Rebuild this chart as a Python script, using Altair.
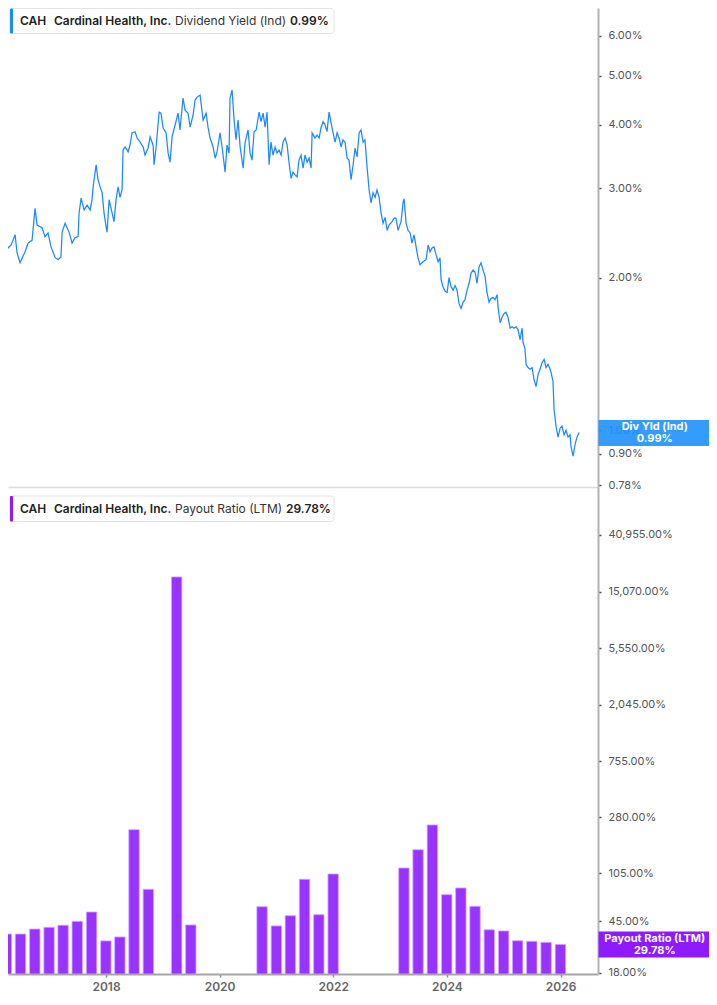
import altair as alt
import pandas as pd

FONT = "Inter"
BLUE = "#1e88ff"
BLUE_BOX = "#1e90ff"
PURPLE = "#9933ff"
PURPLE_BOX = "#8f1aff"

# ---- Dividend yield (Ind), % ----
yield_dates = [
    "2016-03-24", "2016-04-18", "2016-04-25", "2016-05-01", "2016-05-14", "2016-06-02", "2016-06-27",
    "2016-07-09", "2016-07-28", "2016-08-29", "2016-09-17", "2016-10-12", "2016-10-31", "2016-11-13",
    "2016-12-14", "2017-01-02", "2017-01-21", "2017-02-09", "2017-03-07", "2017-03-26", "2017-04-13",
    "2017-04-20", "2017-05-09", "2017-06-03", "2017-06-22", "2017-07-11", "2017-07-30", "2017-08-05",
    "2017-08-18", "2017-09-06", "2017-09-25", "2017-10-14", "2017-10-26", "2017-11-02", "2017-11-21",
    "2017-12-03", "2017-12-16", "2017-12-29", "2018-01-10", "2018-01-23", "2018-01-29", "2018-02-11",
    "2018-03-02", "2018-03-14", "2018-03-27", "2018-04-09", "2018-04-21", "2018-05-04", "2018-05-10",
    "2018-05-23", "2018-06-11", "2018-06-23", "2018-07-06", "2018-07-25", "2018-08-07", "2018-08-26",
    "2018-09-14", "2018-09-26", "2018-10-15", "2018-10-28", "2018-11-16", "2018-11-22", "2018-12-05",
    "2018-12-24", "2019-01-05", "2019-01-18", "2019-02-06", "2019-02-19", "2019-03-03", "2019-03-16",
    "2019-04-04", "2019-04-23", "2019-05-05", "2019-05-24", "2019-06-06", "2019-06-25", "2019-07-08",
    "2019-07-27", "2019-08-08", "2019-08-21", "2019-09-09", "2019-09-28", "2019-10-17", "2019-10-29",
    "2019-11-11", "2019-11-30", "2019-12-13", "2019-12-25", "2020-01-13", "2020-01-26", "2020-02-14",
    "2020-02-26", "2020-03-10", "2020-03-16", "2020-03-29", "2020-04-11", "2020-04-23", "2020-05-06",
    "2020-05-19", "2020-06-07", "2020-06-19", "2020-07-08", "2020-07-21", "2020-08-02", "2020-08-15",
    "2020-08-28", "2020-09-16", "2020-09-28", "2020-10-11", "2020-10-24", "2020-11-05", "2020-11-18",
    "2020-11-30", "2020-12-13", "2020-12-26", "2021-01-07", "2021-01-20", "2021-02-02", "2021-02-14",
    "2021-02-27", "2021-03-12", "2021-03-24", "2021-04-06", "2021-04-18", "2021-05-01", "2021-05-14",
    "2021-05-26", "2021-06-08", "2021-06-21", "2021-07-03", "2021-07-16", "2021-07-29", "2021-08-10",
    "2021-08-17", "2021-09-04", "2021-09-17", "2021-09-30", "2021-10-12", "2021-10-25", "2021-11-07",
    "2021-11-19", "2021-12-02", "2021-12-15", "2021-12-27", "2022-01-09", "2022-01-22", "2022-02-03",
    "2022-02-16", "2022-02-28", "2022-03-13", "2022-03-26", "2022-04-07", "2022-04-20", "2022-05-03",
    "2022-05-15", "2022-05-28", "2022-06-10", "2022-06-22", "2022-07-05", "2022-07-17", "2022-07-30",
    "2022-08-12", "2022-08-24", "2022-09-06", "2022-09-19", "2022-10-01", "2022-10-14", "2022-10-27",
    "2022-11-08", "2022-11-21", "2022-12-04", "2022-12-16", "2023-01-04", "2023-01-17", "2023-01-29",
    "2023-02-11", "2023-03-02", "2023-03-15", "2023-03-21", "2023-04-03", "2023-04-15", "2023-04-28",
    "2023-05-10", "2023-05-23", "2023-06-05", "2023-06-17", "2023-06-30", "2023-07-19", "2023-08-07",
    "2023-08-20", "2023-09-01", "2023-09-14", "2023-09-26", "2023-10-09", "2023-10-22", "2023-11-03",
    "2023-11-10", "2023-11-22", "2023-12-05", "2023-12-18", "2023-12-30", "2024-01-12", "2024-01-25",
    "2024-02-06", "2024-02-19", "2024-03-02", "2024-03-15", "2024-03-28", "2024-04-09", "2024-04-22",
    "2024-05-05", "2024-05-17", "2024-05-30", "2024-06-12", "2024-06-24", "2024-07-07", "2024-07-19",
    "2024-08-01", "2024-08-14", "2024-08-26", "2024-09-08", "2024-09-21", "2024-10-03", "2024-10-16",
    "2024-10-29", "2024-11-04", "2024-11-17", "2024-11-29", "2024-12-12", "2024-12-24", "2025-01-06",
    "2025-01-19", "2025-01-31", "2025-02-13", "2025-02-26", "2025-03-10", "2025-03-23", "2025-04-05",
    "2025-04-11", "2025-04-23", "2025-04-30", "2025-05-12", "2025-05-25", "2025-06-07", "2025-06-19",
    "2025-07-02", "2025-07-15", "2025-07-27", "2025-08-09", "2025-08-22", "2025-09-03", "2025-09-16",
    "2025-09-29", "2025-10-05", "2025-10-17", "2025-10-24", "2025-11-05", "2025-11-18", "2025-12-01",
    "2025-12-13", "2025-12-26", "2026-01-08", "2026-01-20", "2026-02-02", "2026-02-08", "2026-02-21",
    "2026-03-06", "2026-03-18", "2026-03-31",
]
yield_values = [
    1.91, 1.78, 1.98, 2.34, 2.29, 2.32, 2.43,
    2.24, 2.14, 2.25, 2.34, 2.37, 2.74, 2.54,
    2.51, 2.41, 2.45, 2.30, 2.19, 2.17, 2.20,
    2.46, 2.56, 2.46, 2.34, 2.40, 2.41, 2.68,
    2.87, 2.72, 2.78, 2.72, 2.85, 3.02, 3.34,
    3.12, 3.02, 2.94, 2.68, 2.52, 2.46, 2.85,
    2.68, 2.58, 2.85, 3.02, 2.88, 2.98, 3.57,
    3.62, 3.54, 3.65, 3.86, 3.88, 3.77, 3.70,
    3.62, 3.49, 3.60, 3.79, 3.65, 3.34, 3.62,
    4.24, 4.22, 3.95, 3.86, 3.52, 3.38, 3.79,
    4.00, 4.22, 3.91, 4.52, 4.28, 4.22, 3.96,
    4.19, 4.48, 4.54, 4.58, 4.09, 4.22, 3.96,
    3.77, 3.62, 3.44, 3.54, 3.86, 3.62, 3.23,
    3.65, 3.52, 4.52, 4.69, 4.09, 3.74, 4.09,
    3.62, 3.29, 3.69, 3.91, 3.52, 3.41, 3.88,
    3.91, 4.24, 4.06, 4.22, 3.96, 4.24, 3.34,
    3.70, 3.49, 3.62, 3.52, 3.57, 3.49, 3.70,
    3.77, 3.65, 3.37, 3.14, 3.23, 3.19, 3.16,
    3.41, 3.49, 3.29, 3.49, 3.38, 3.44, 3.29,
    3.86, 3.77, 3.82, 3.77, 3.95, 4.06, 4.00,
    3.88, 4.24, 4.04, 3.86, 3.70, 3.86, 3.77,
    3.62, 3.74, 3.70, 3.44, 3.41, 3.12, 3.34,
    3.60, 3.46, 3.86, 3.91, 3.70, 3.74, 3.31,
    2.98, 2.81, 2.94, 2.88, 2.98, 2.88, 2.68,
    2.56, 2.63, 2.48, 2.54, 2.58, 2.62, 2.62,
    2.48, 2.58, 2.82, 2.86, 2.56, 2.48, 2.45,
    2.34, 2.43, 2.30, 2.19, 2.12, 2.15, 2.17,
    2.32, 2.25, 2.29, 2.30, 2.22, 2.15, 2.19,
    1.98, 1.92, 1.88, 1.87, 2.00, 1.92, 1.89,
    1.93, 1.89, 1.78, 1.74, 1.79, 1.81, 1.89,
    1.95, 2.04, 2.07, 2.05, 1.95, 2.10, 2.14,
    2.07, 2.01, 1.87, 1.79, 1.82, 1.83, 1.81,
    1.85, 1.75, 1.63, 1.67, 1.70, 1.71, 1.67,
    1.59, 1.60, 1.59, 1.60, 1.58, 1.51, 1.59,
    1.49, 1.45, 1.35, 1.33, 1.32, 1.33, 1.26,
    1.22, 1.29, 1.32, 1.36, 1.38, 1.33, 1.35,
    1.32, 1.30, 1.25, 1.10, 1.02, 0.97, 1.01,
    1.02, 0.98, 1.00, 0.97, 0.98, 0.93, 0.89,
    0.94, 0.97, 0.99,
]

# ---- Payout ratio (LTM), %, quarterly (missing quarters omitted) ----
payout_dates = [
    "2016-03-31", "2016-06-30", "2016-09-30", "2016-12-31", "2017-03-31", "2017-06-30",
    "2017-09-30", "2017-12-31", "2018-03-31", "2018-06-30", "2018-09-30", "2019-03-31",
    "2019-06-30", "2020-09-30", "2020-12-31", "2021-03-31", "2021-06-30", "2021-09-30",
    "2021-12-31", "2023-03-31", "2023-06-30", "2023-09-30", "2023-12-31", "2024-03-31",
    "2024-06-30", "2024-09-30", "2024-12-31", "2025-03-31", "2025-06-30", "2025-09-30",
    "2025-12-31",
]
payout_values = [
    35.8, 35.8, 39.1, 40.3, 41.8, 44.8,
    52.8, 31.7, 34.0, 225.8, 78.9, 19530.0,
    42.0, 58.0, 41.3, 49.5, 94.1, 50.4,
    103.3, 114.8, 158.6, 245.3, 71.7, 80.7,
    58.4, 38.6, 37.8, 31.8, 31.5, 30.9,
    29.78,
]

yield_ticks = [0.78, 0.9, 1, 2, 3, 4, 5, 6]
payout_ticks = [18, 45, 105, 280, 755, 2045, 5550, 15070, 40955]
year_ticks = [2018, 2020, 2022, 2024, 2026]

line_df = pd.DataFrame({"date": pd.to_datetime(yield_dates), "yld": yield_values})
bar_df = pd.DataFrame({"date": pd.to_datetime(payout_dates), "payout": payout_values})
ann = pd.DataFrame({"k": [0]})

x_dom = [alt.DateTime(year=2016, month=5, date=13),
         alt.DateTime(year=2026, month=7, date=28, hours=12)]

W = 590
H_TOP = 479
H_BOT = 487
BOX_R = 701

yaxis_common = dict(
    orient="right", title=None, grid=False, domainColor="#b3b3b3", domainWidth=2,
    tickColor="#555555", tickSize=3, tickWidth=1.5, labelColor="#555555", labelFont=FONT,
    labelFontSize=11, labelPadding=7, labelFlush=False, labelOverlap=False, labelBound=False,
)

# ---------------- top panel ----------------
line = alt.Chart(line_df).mark_line(color=BLUE, strokeWidth=1.25, clip=True).encode(
    x=alt.X("date:T", scale=alt.Scale(domain=x_dom),
            axis=alt.Axis(labels=False, ticks=False, grid=False, title=None,
                          domainColor="#dcdcdc", domainWidth=1.5)),
    y=alt.Y("yld:Q", scale=alt.Scale(type="log", domain=[0.7734, 6.803], nice=False),
            axis=alt.Axis(values=yield_ticks,
                          labelExpr="format(datum.value, '.2f') + '%'", **yaxis_common)),
)


def legend_layers(accent, label, value, label_x, value_x, y0, y1):
    yc = (y0 + y1) / 2
    box = alt.Chart(ann).mark_rect(fill="white", stroke="#e3e3e3", strokeWidth=1,
                                   cornerRadius=3).encode(
        x=alt.value(2), x2=alt.value(326), y=alt.value(y0), y2=alt.value(y1))
    acc = alt.Chart(ann).mark_rect(fill=accent, cornerRadius=1).encode(
        x=alt.value(2), x2=alt.value(5), y=alt.value(y0), y2=alt.value(y1))
    texts = []
    for txt, xx, wt, col in [("CAH", 12, 600, "#222222"),
                             ("Cardinal Health, Inc.", 46, 600, "#222222"),
                             (label, label_x, 400, "#333333"),
                             (value, value_x, 600, "#222222")]:
        texts.append(alt.Chart(ann).mark_text(
            text=txt, align="left", baseline="middle", font=FONT, fontSize=12,
            fontWeight=wt, color=col).encode(x=alt.value(xx), y=alt.value(yc)))
    return [box, acc] + texts


def value_box(color, line1, line2, y0, y1, opacity):
    xc = (590.5 + BOX_R) / 2 + 1
    box = alt.Chart(ann).mark_rect(fill=color, opacity=opacity).encode(
        x=alt.value(590.5), x2=alt.value(BOX_R), y=alt.value(y0), y2=alt.value(y1))
    t1 = alt.Chart(ann).mark_text(text=line1, align="center", baseline="middle", font=FONT,
                                  fontSize=11, fontWeight=700, color="white").encode(
        x=alt.value(xc), y=alt.value(y0 + 7))
    t2 = alt.Chart(ann).mark_text(text=line2, align="center", baseline="middle", font=FONT,
                                  fontSize=11, fontWeight=700, color="white").encode(
        x=alt.value(xc), y=alt.value(y0 + 19))
    return [box, t1, t2]


top = alt.layer(
    line,
    *legend_layers(BLUE, "Dividend Yield (Ind)", "0.99%", 167, 282, 0.5, 25.5),
    *value_box(BLUE_BOX, "Div Yld (Ind)", "0.99%", 412, 438, 0.9),
).properties(width=W, height=H_TOP)

# ---------------- bottom panel ----------------
bars = alt.Chart(bar_df).mark_bar(color=PURPLE, width=10.4, stroke="#cfa8ff", strokeWidth=0.8,
                                  clip=True).encode(
    x=alt.X("date:T", scale=alt.Scale(domain=x_dom),
            axis=alt.Axis(values=[alt.DateTime(year=y, month=1, date=1) for y in year_ticks],
                          format="%Y", title=None, grid=False, labelFont=FONT, labelFontSize=12,
                          labelFontWeight=600, labelColor="#666666", labelPadding=4,
                          labelFlush=False, domainColor="#a6a6a6", domainWidth=2,
                          tickColor="#888888", tickSize=3, tickWidth=1.5)),
    y=alt.Y("payout:Q", scale=alt.Scale(type="log", domain=[17.68, 95440], nice=False),
            axis=alt.Axis(values=payout_ticks,
                          labelExpr="format(datum.value, ',.2f') + '%'", **yaxis_common)),
    y2=alt.datum(17.68),
)

bottom = alt.layer(
    bars,
    *legend_layers(PURPLE_BOX, "Payout Ratio (LTM)", "29.78%", 167, 278, 9, 34.5),
    *value_box(PURPLE_BOX, "Payout Ratio (LTM)", "29.78%", 444.5, 470.5, 1.0),
).properties(width=W, height=H_BOT)

chart = alt.vconcat(top, bottom, spacing=0, bounds="flush").resolve_scale(
    x="independent", y="independent"
).properties(
    padding={"left": 0, "top": 0, "right": 0, "bottom": 0},
    background="white",
).configure_view(stroke=None)

chart.save("out.html", embed_options={"renderer": "svg", "actions": False})
